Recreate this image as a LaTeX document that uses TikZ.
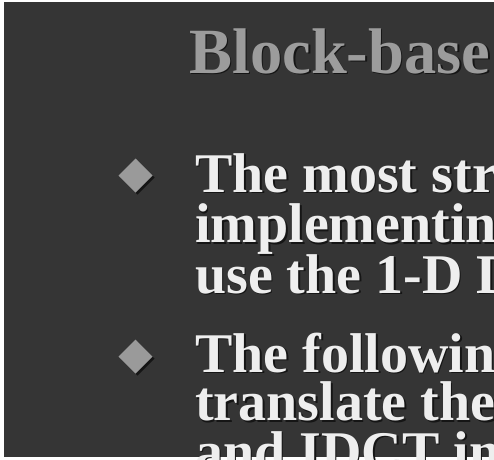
\documentclass[tikz,border=0pt]{standalone}
\usepackage{fontspec}
\setmainfont{Liberation Serif}
\definecolor{bgdark}{HTML}{353535}
\definecolor{titlegray}{HTML}{9C9C9C}
\definecolor{bodywhite}{HTML}{EEEEEE}
\definecolor{shadowc}{HTML}{151515}
\definecolor{bulletgray}{HTML}{9A9A9A}
\newcommand\shd[1]{\leavevmode\rlap{\kern1.6pt\raisebox{-1.6pt}{\color{shadowc}#1}}#1}
\tikzset{
  titletext/.style={anchor=base west, inner sep=0pt, text=titlegray, font=\fontsize{64.5}{64.5}\selectfont\bfseries},
  bodytext/.style={anchor=base west, inner sep=0pt, text=bodywhite, font=\fontsize{56}{56}\selectfont\bfseries},
  bulletshape/.style={fill=bulletgray},
  bulletshadow/.style={fill=shadowc}
}
\begin{document}
\begin{tikzpicture}[x=1pt,y=1pt]
\useasboundingbox (0,0) rectangle (494,459);
\fill[white] (0,0) rectangle (494,459);
\fill[bgdark] (4,2) rectangle (494,457);
\clip (0,0) rectangle (494,459);
% title
\node[titletext] (title) at (189,385.7) {\shd{Block-base}};
% bullet 1
\coordinate (b1) at (135.5,283.5);
\fill[bulletshadow] ([shift={(2,-2)}]b1) +(-17,0) -- +(0,17) -- +(17,0) -- +(0,-17) -- cycle;
\fill[bulletshape] (b1) +(-17,0) -- +(0,17) -- +(17,0) -- +(0,-17) -- cycle;
\node[bodytext] (l1) at (195,267) {\shd{The most str}};
\node[bodytext] (l2) at (195,216.5) {\shd{implementin}};
\node[bodytext] (l3) at (195,166) {\shd{use the 1-D D}};
% bullet 2
\coordinate (b2) at (135.5,102.5);
\fill[bulletshadow] ([shift={(2,-2)}]b2) +(-17,0) -- +(0,17) -- +(17,0) -- +(0,-17) -- cycle;
\fill[bulletshape] (b2) +(-17,0) -- +(0,17) -- +(17,0) -- +(0,-17) -- cycle;
\node[bodytext] (l4) at (195,87) {\shd{The followin}};
\node[bodytext] (l5) at (195,38.5) {\shd{translate the}};
\node[bodytext] (l6) at (195,-11) {\shd{and IDCT in}};
\end{tikzpicture}
\end{document}
